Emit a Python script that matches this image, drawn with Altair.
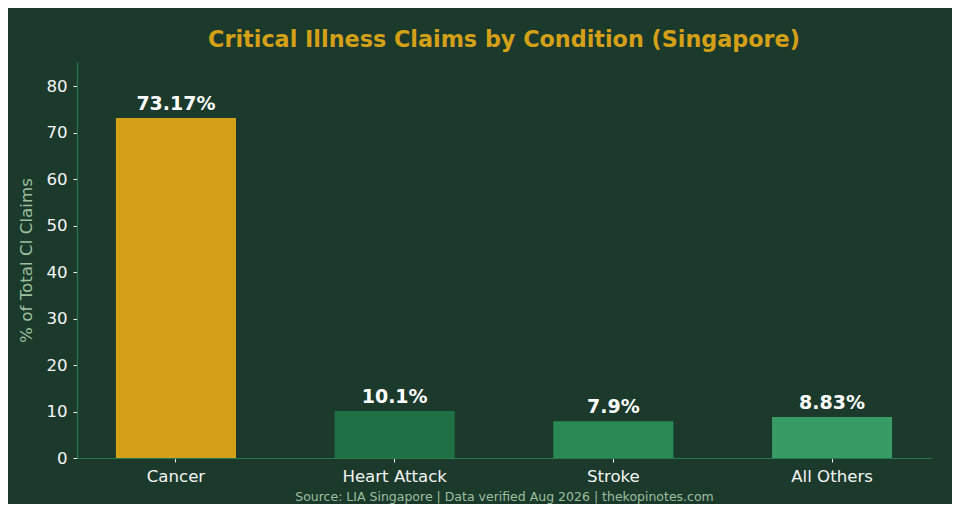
import altair as alt
import pandas as pd

conditions = ["Cancer", "Heart Attack", "Stroke", "All Others"]
shares = [73.17, 10.1, 7.9, 8.83]
labels = ["73.17%", "10.1%", "7.9%", "8.83%"]
colors = ["#D4A017", "#1F7044", "#2A8A55", "#389A64"]

df = pd.DataFrame({"Condition": conditions, "Share": shares, "Label": labels})

FONT = "DejaVu Sans"

x = alt.X(
    "Condition:N",
    sort=conditions,
    scale=alt.Scale(paddingInner=0.451, paddingOuter=0.178),
    axis=alt.Axis(
        title="Source: LIA Singapore | Data verified Aug 2026 | thekopinotes.com",
        titleColor="#9DBF9F",
        titleFontSize=12.5,
        titleFontWeight="normal",
        titleFont=FONT,
        titlePadding=6,
        labelAngle=0,
        labelColor="#F5F5F5",
        labelFontSize=16.6,
        labelFont=FONT,
        labelPadding=6,
        tickColor="#F5F5F5",
        tickSize=4,
        domainColor="#247A4C",
        domainWidth=1.2,
    ),
)

y = alt.Y(
    "Share:Q",
    scale=alt.Scale(domain=[0, 85.2], nice=False, zero=True),
    axis=alt.Axis(
        title="% of Total CI Claims",
        titleColor="#9DBF9F",
        titleFontSize=16.7,
        titleFontWeight="normal",
        titleFont=FONT,
        titlePadding=10,
        values=[0, 10, 20, 30, 40, 50, 60, 70, 80],
        labelColor="#F5F5F5",
        labelFontSize=16.6,
        labelFont=FONT,
        labelPadding=6,
        tickColor="#F5F5F5",
        tickSize=4,
        domainColor="#247A4C",
        domainWidth=1.2,
        grid=False,
    ),
)

bars = alt.Chart(df).mark_bar().encode(
    x=x,
    y=y,
    color=alt.Color("Condition:N", scale=alt.Scale(domain=conditions, range=colors), legend=None),
)

text = alt.Chart(df).mark_text(
    baseline="bottom", dy=-4, fontSize=19, fontWeight="bold", color="#FFFFFF", font=FONT
).encode(
    x=alt.X("Condition:N", sort=conditions),
    y="Share:Q",
    text="Label:N",
)

chart = (
    alt.layer(bars, text)
    .properties(
        width=854,
        height=396,
        background="#1B3A2C",
        padding={"left": 69, "top": 54, "right": 21, "bottom": 46},
        autosize=alt.AutoSizeParams(type="none"),
        title=alt.TitleParams(
            "Critical Illness Claims by Condition (Singapore)",
            color="#D4A017",
            fontSize=22.3,
            fontWeight="bold",
            font=FONT,
            anchor="middle",
            offset=11,
        ),
    )
    .configure_view(stroke=None)
)

chart.save("out.html", embed_options={"renderer": "svg", "actions": False})
